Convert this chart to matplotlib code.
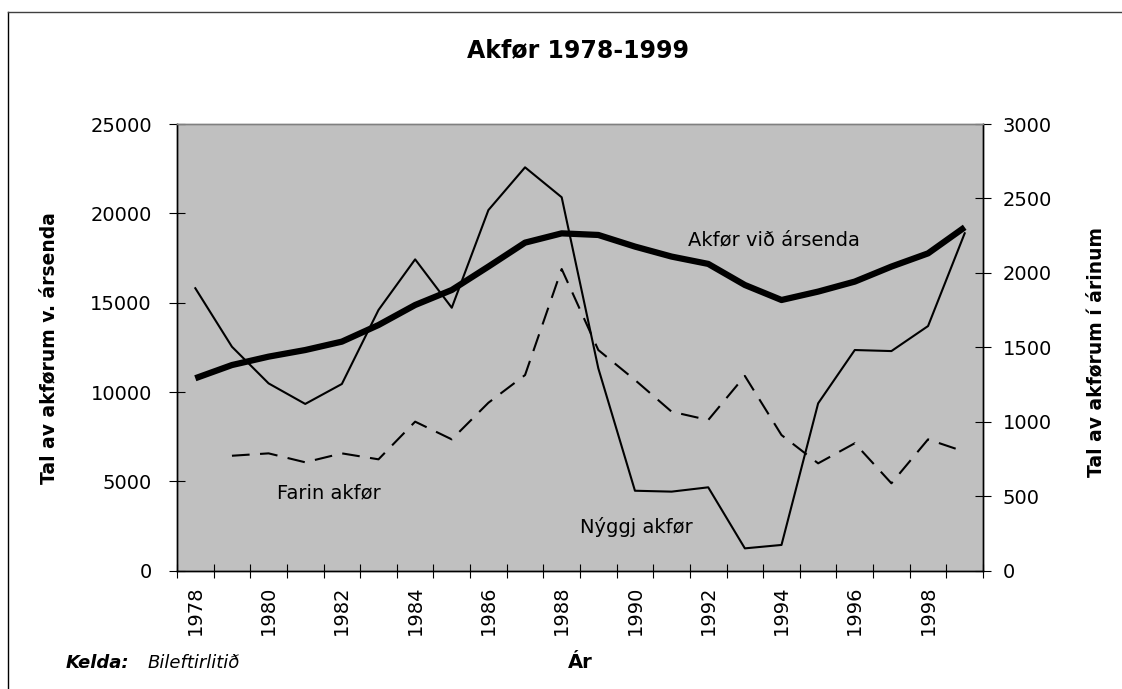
import numpy as np
import matplotlib
matplotlib.use("Agg")
import matplotlib.pyplot as plt
from matplotlib.lines import Line2D

# ---- data ----
years = list(range(1978, 2000))
akfor_arsenda = [10770, 11510, 11980, 12350, 12820, 13750, 14870, 15710, 17020, 18360,
                 18880, 18790, 18140, 17580, 17170, 15990, 15150, 15620, 16180, 17020,
                 17760, 19220]
nyggj_akfor = [1897, 1504, 1258, 1120, 1254, 1751, 2091, 1766, 2422, 2709,
               2508, 1359, 537, 531, 560, 150, 173, 1124, 1482, 1475,
               1643, 2266]
farin_years = list(range(1979, 2000))
farin_akfor = [772, 788, 728, 788, 748, 1001, 882, 1128, 1314, 2026,
               1482, 1281, 1068, 1012, 1308, 911, 721, 856, 587, 882,
               799]
left_ticks = [0, 5000, 10000, 15000, 20000, 25000]
right_ticks = [0, 500, 1000, 1500, 2000, 2500, 3000]
year_labels = [str(y) for y in years[::2]]

W, H = 1122, 689
fig = plt.figure(figsize=(W / 100, H / 100), dpi=100)
fig.patch.set_facecolor("white")

x0, x1, y0, y1 = 177, 983, 124, 570.7
ax = fig.add_axes([x0 / W, 1 - y1 / H, (x1 - x0) / W, (y1 - y0) / H])
ax.set_facecolor("#C0C0C0")
ax2 = ax.twinx()

idx = np.arange(len(years))
fidx = np.array([years.index(y) for y in farin_years])

ax.plot(idx, akfor_arsenda, color="black", lw=4.5, solid_joinstyle="round",
        solid_capstyle="butt", zorder=3)
ax2.plot(idx, nyggj_akfor, color="black", lw=1.5, zorder=3)
ax2.plot(fidx, farin_akfor, color="black", lw=1.5, dashes=(8.5, 5), zorder=3)

ax.set_xlim(-0.5, len(years) - 0.5)
ax.set_ylim(0, 25000)
ax2.set_ylim(0, 3000)

ax.set_yticks(left_ticks)
ax.set_yticklabels([str(v) for v in left_ticks])
ax2.set_yticks(right_ticks)
ax2.set_yticklabels([str(v) for v in right_ticks])

ax.set_xticks(np.arange(-0.5, len(years), 1.0))
ax.set_xticklabels([])
ax.set_xticks(idx[::2], minor=True)
ax.set_xticklabels(year_labels, minor=True, rotation=90, fontsize=14)
ax.tick_params(axis="x", which="major", direction="inout", length=9.5, width=0.8,
               color="black")
ax.tick_params(axis="x", which="minor", length=0, pad=11)
ax.tick_params(axis="y", direction="inout", length=12, width=0.8, pad=12,
               labelsize=14)
ax2.tick_params(axis="y", direction="inout", length=11, width=0.8, pad=8.5,
                labelsize=14)

for a in (ax, ax2):
    for s in ("left", "right", "bottom"):
        a.spines[s].set_color("black")
        a.spines[s].set_linewidth(1.0)
    a.spines["top"].set_color("#808080")
    a.spines["top"].set_linewidth(1.0)

# in-plot labels
ax.text(13.44, 18510, "Akfør við ársenda", fontsize=14, ha="left", va="center", zorder=4)
ax.text(2.23, 4349, "Farin akfør", fontsize=14, ha="left", va="center", zorder=4)
ax.text(10.5, 2446, "Nýggj akfør", fontsize=14, ha="left", va="center", zorder=4)

# titles / axis labels
fig.text(578 / W, 1 - 50 / H, "Akfør 1978-1999", fontsize=17, fontweight="bold",
         ha="center", va="center")
fig.text(49 / W, 1 - 348 / H, "Tal av akførum v. ársenda", fontsize=13.5,
         fontweight="bold", rotation=90, ha="center", va="center")
fig.text(1096 / W, 1 - 352 / H, "Tal av akførum í árinum", fontsize=13.5,
         fontweight="bold", rotation=90, ha="center", va="center")
fig.text(580 / W, 1 - 662 / H, "Ár", fontsize=14, fontweight="bold",
         ha="center", va="center")
fig.text(66 / W, 1 - 663 / H, "Kelda:", fontsize=13, fontweight="bold",
         style="italic", ha="left", va="center")
fig.text(148 / W, 1 - 663 / H, "Bileftirlitið", fontsize=13, style="italic",
         ha="left", va="center")

# outer frame (top and left edges)
fig.add_artist(Line2D([8 / W, 8 / W], [0, 1 - 12 / H], transform=fig.transFigure,
                      color="black", lw=1.0))
fig.add_artist(Line2D([8 / W, 1], [1 - 12 / H, 1 - 12 / H], transform=fig.transFigure,
                      color="#404040", lw=1.0))

fig.savefig("out.png", dpi=100, facecolor="white")
